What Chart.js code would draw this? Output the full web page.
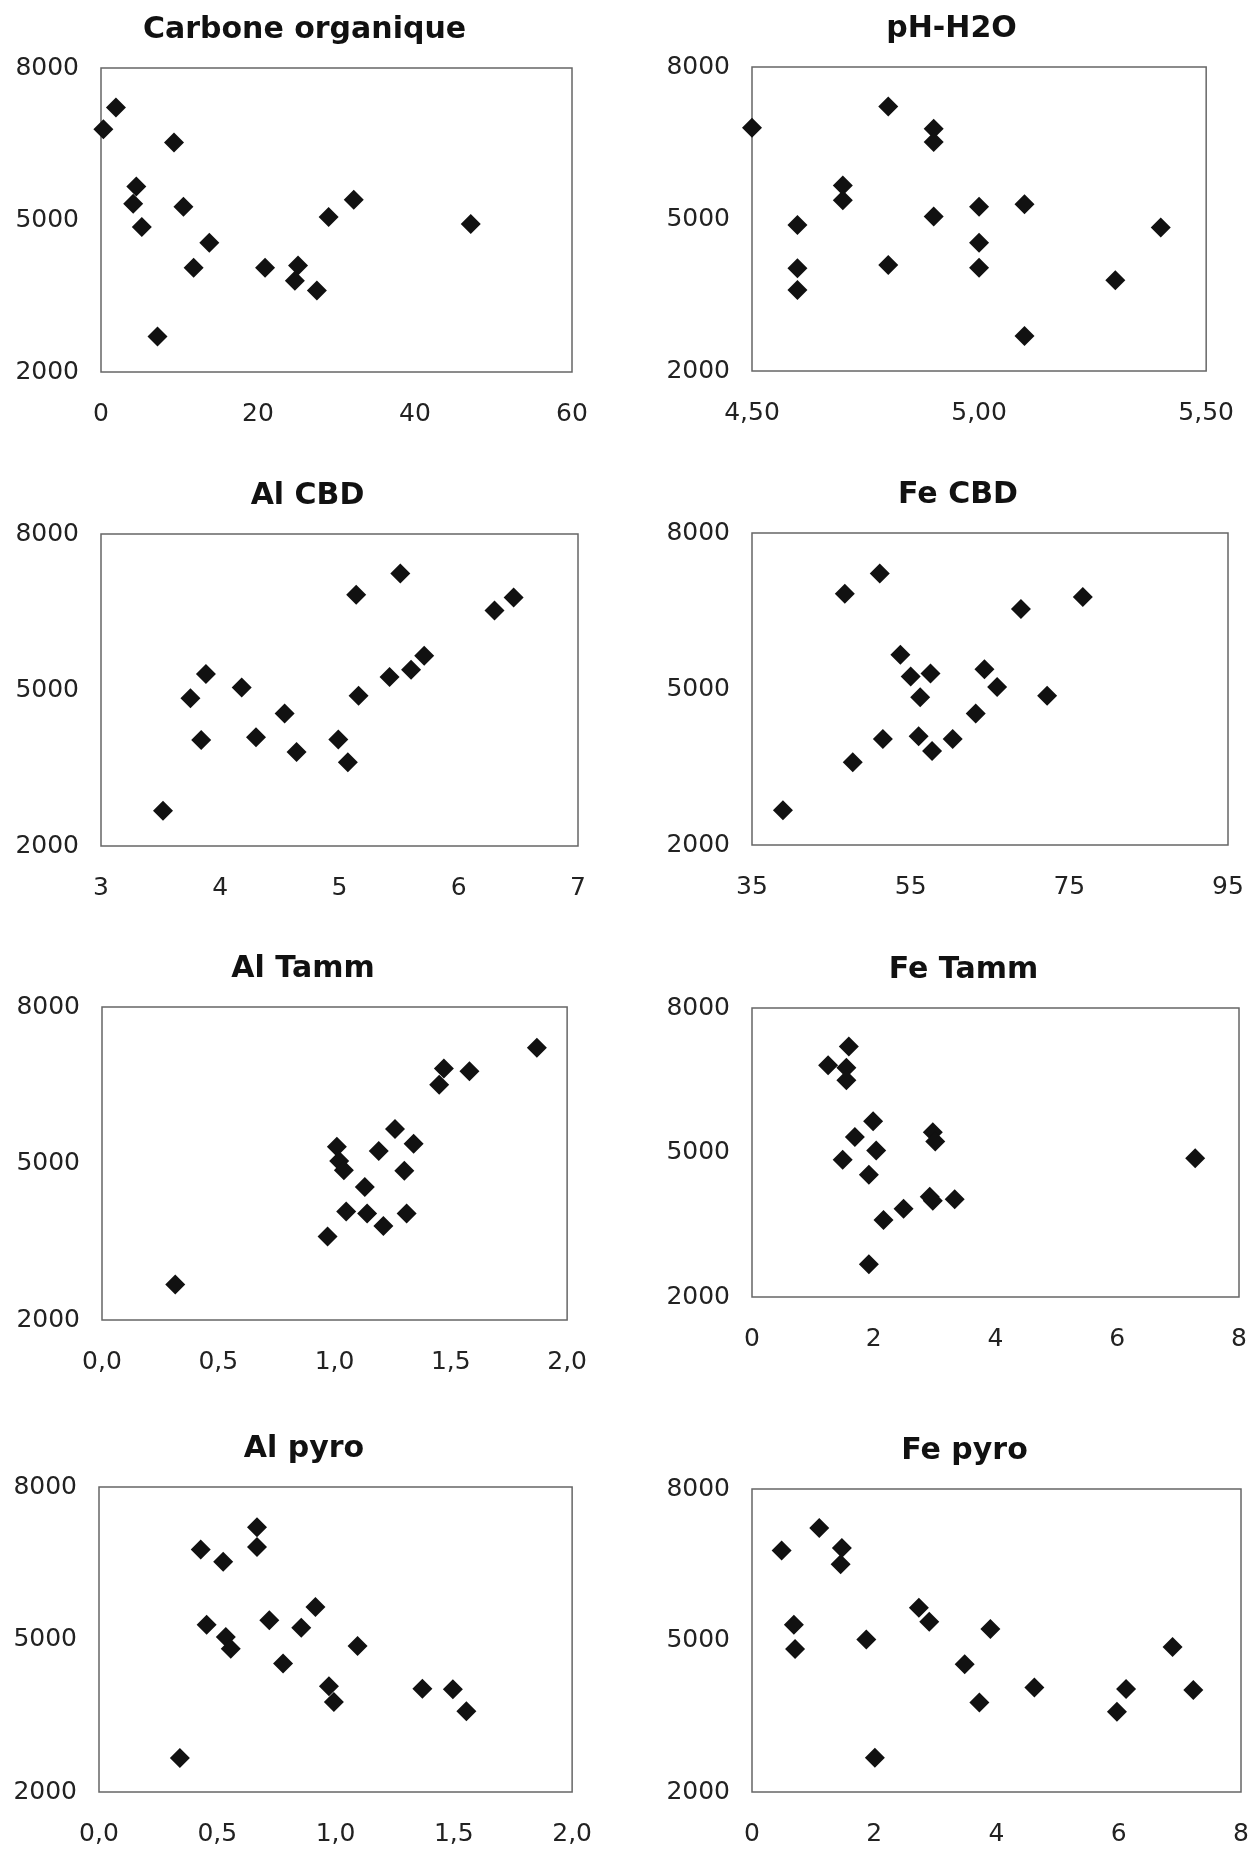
<!DOCTYPE html>
<html lang="fr">
<head>
<meta charset="UTF-8">
<title>Nuages de points</title>
<script src="https://cdn.jsdelivr.net/npm/chart.js"></script>
<style>
  body { margin: 0; background: #fff; }
  #page { position: relative; width: 1259px; height: 1856px; }
  .box { position: absolute; }
</style>
</head>
<body>
<div id="page"></div>
<script>
// axe vertical commun
const yTicks = [2000, 5000, 8000];
const yTickLabels = ['2000', '5000', '8000'];

// Carbone organique
const carbonX = [0.3, 1.9, 9.3, 4.5, 4.1, 5.2, 10.5, 13.8, 11.8, 7.2, 20.9, 25.1, 24.7, 27.5, 29.0, 32.2, 47.1];
const carbonY = [6790, 7220, 6530, 5660, 5320, 4860, 5260, 4550, 4060, 2700, 4060, 4100, 3800, 3610, 5060, 5400, 4920];
const carbonTicks = [0, 20, 40, 60];
const carbonLabels = ['0', '20', '40', '60'];

// pH-H2O
const phX = [4.50, 4.80, 4.90, 4.90, 4.70, 4.70, 4.60, 4.60, 4.60, 4.80, 4.90, 5.00, 5.00, 5.00, 5.10, 5.10, 5.30, 5.40];
const phY = [6800, 7220, 6780, 6520, 5660, 5370, 4880, 4030, 3600, 4090, 5050, 5240, 4530, 4040, 5290, 2690, 3790, 4830];
const phTicks = [4.5, 5.0, 5.5];
const phLabels = ['4,50', '5,00', '5,50'];

// Al CBD
const alCbdX = [3.52, 3.75, 3.88, 3.84, 4.18, 4.30, 4.54, 4.64, 4.99, 5.07, 5.14, 5.16, 5.51, 5.42, 5.60, 5.71, 6.30, 6.46];
const alCbdY = [2680, 4840, 5310, 4040, 5050, 4090, 4550, 3810, 4050, 3610, 6830, 4890, 7240, 5250, 5390, 5660, 6530, 6780];
const alCbdTicks = [3, 4, 5, 6, 7];
const alCbdLabels = ['3', '4', '5', '6', '7'];

// Fe CBD
const feCbdX = [38.9, 46.7, 51.1, 47.7, 51.5, 53.7, 55.0, 56.2, 57.5, 56.0, 57.7, 60.3, 63.2, 64.3, 65.9, 68.9, 72.2, 76.7];
const feCbdY = [2670, 6830, 7220, 3590, 4040, 5660, 5240, 4840, 5300, 4090, 3810, 4040, 4530, 5380, 5040, 6540, 4870, 6770];
const feCbdTicks = [35, 55, 75, 95];
const feCbdLabels = ['35', '55', '75', '95'];

// Al Tamm
const alTammX = [0.315, 0.97, 1.01, 1.02, 1.04, 1.05, 1.13, 1.14, 1.19, 1.21, 1.26, 1.30, 1.31, 1.34, 1.45, 1.47, 1.58, 1.87];
const alTammY = [2680, 3600, 5320, 5050, 4870, 4080, 4550, 4040, 5240, 3800, 5660, 4860, 4040, 5380, 6510, 6820, 6770, 7220];
const alTammTicks = [0, 0.5, 1, 1.5, 2];
const alTammLabels = ['0,0', '0,5', '1,0', '1,5', '2,0'];

// Fe Tamm
const feTammX = [1.25, 1.59, 1.55, 1.55, 1.99, 1.69, 1.49, 2.04, 1.92, 2.97, 3.01, 2.92, 2.97, 3.33, 2.49, 2.16, 1.92, 7.28];
const feTammY = [6810, 7200, 6760, 6500, 5650, 5320, 4850, 5040, 4540, 5420, 5230, 4080, 4000, 4030, 3830, 3600, 2680, 4880];
const feTammTicks = [0, 2, 4, 6, 8];
const feTammLabels = ['0', '2', '4', '6', '8'];

// Al pyro
const alPyroX = [0.342, 0.43, 0.525, 0.668, 0.668, 0.455, 0.536, 0.557, 0.72, 0.778, 0.855, 0.915, 1.093, 0.972, 0.993, 1.367, 1.496, 1.553];
const alPyroY = [2670, 6770, 6530, 7210, 6820, 5290, 5050, 4820, 5380, 4530, 5230, 5640, 4870, 4080, 3770, 4030, 4020, 3590];
const alPyroTicks = [0, 0.5, 1, 1.5, 2];
const alPyroLabels = ['0,0', '0,5', '1,0', '1,5', '2,0'];

// Fe pyro
const fePyroX = [0.485, 1.10, 1.47, 1.45, 0.685, 0.705, 1.87, 2.73, 2.90, 3.90, 3.48, 3.72, 4.62, 2.01, 5.97, 6.12, 6.88, 7.22];
const fePyroY = [6780, 7230, 6830, 6510, 5310, 4830, 5020, 5650, 5370, 5230, 4530, 3770, 4070, 2680, 3590, 4040, 4870, 4020];
const fePyroTicks = [0, 2, 4, 6, 8];
const fePyroLabels = ['0', '2', '4', '6', '8'];

// cadre de chaque graphique : gauche, haut, droite, bas (px)
const panels = [
  { title: 'Carbone organique', xs: carbonX, ys: carbonY, ticks: carbonTicks, labels: carbonLabels, frame: [101, 68, 572, 372] },
  { title: 'pH-H2O', xs: phX, ys: phY, ticks: phTicks, labels: phLabels, frame: [752, 67, 1215, 371] },
  { title: 'Al CBD', xs: alCbdX, ys: alCbdY, ticks: alCbdTicks, labels: alCbdLabels, frame: [101, 534, 578, 846] },
  { title: 'Fe CBD', xs: feCbdX, ys: feCbdY, ticks: feCbdTicks, labels: feCbdLabels, frame: [752, 533, 1228, 845] },
  { title: 'Al Tamm', xs: alTammX, ys: alTammY, ticks: alTammTicks, labels: alTammLabels, frame: [102, 1007, 568, 1320] },
  { title: 'Fe Tamm', xs: feTammX, ys: feTammY, ticks: feTammTicks, labels: feTammLabels, frame: [752, 1008, 1239, 1297] },
  { title: 'Al pyro', xs: alPyroX, ys: alPyroY, ticks: alPyroTicks, labels: alPyroLabels, frame: [99, 1487, 573, 1792] },
  { title: 'Fe pyro', xs: fePyroX, ys: fePyroY, ticks: fePyroTicks, labels: fePyroLabels, frame: [752, 1489, 1241, 1792] }
];

// un axe vide à droite (y2) décale le titre comme sur l'original
const Y_AXIS_W = 110, Y2_AXIS_W = 46, X_AXIS_H = 60, TITLE_H = 80;
const tickFont = { family: 'DejaVu Sans', size: 25 };

// cadre gris autour de la zone de tracé
const framePlugin = {
  id: 'frame',
  beforeDatasetsDraw(chart) {
    const a = chart.chartArea, ctx = chart.ctx;
    ctx.save();
    ctx.strokeStyle = '#666';
    ctx.lineWidth = 1.5;
    ctx.strokeRect(a.left, a.top, a.right - a.left, a.bottom - a.top);
    ctx.restore();
  }
};

const page = document.getElementById('page');

panels.forEach(p => {
  const [L, T, R, B] = p.frame;
  const box = document.createElement('div');
  box.className = 'box';
  box.style.left = (L - Y_AXIS_W) + 'px';
  box.style.top = (T - TITLE_H) + 'px';
  box.style.width = (R - L + Y_AXIS_W + Y2_AXIS_W) + 'px';
  box.style.height = (B - T + TITLE_H + X_AXIS_H) + 'px';
  const canvas = document.createElement('canvas');
  box.appendChild(canvas);
  page.appendChild(box);

  new Chart(canvas, {
    type: 'scatter',
    data: {
      datasets: [{
        data: p.xs.map((x, i) => ({ x: x, y: p.ys[i] })),
        pointStyle: 'rectRot',
        pointRadius: 10,
        pointHoverRadius: 10,
        backgroundColor: '#111',
        borderColor: '#111',
        borderWidth: 0,
        clip: false
      }]
    },
    options: {
      responsive: true,
      maintainAspectRatio: false,
      devicePixelRatio: 1,
      animation: false,
      layout: { padding: 0 },
      plugins: {
        legend: { display: false },
        tooltip: { enabled: false },
        title: {
          display: true,
          text: p.title,
          color: '#111',
          font: { family: 'DejaVu Sans', size: 30, weight: 'bold' },
          padding: { top: 24, bottom: 20 }
        }
      },
      scales: {
        x: {
          type: 'linear',
          min: p.ticks[0],
          max: p.ticks[p.ticks.length - 1],
          afterBuildTicks: s => { s.ticks = p.ticks.map(v => ({ value: v })); },
          afterFit: s => { s.height = X_AXIS_H; },
          grid: { display: false, drawTicks: false, tickLength: 0 },
          border: { display: false },
          ticks: {
            callback: (v, i) => p.labels[i],
            font: tickFont,
            color: '#222',
            padding: 27,
            maxRotation: 0,
            autoSkip: false
          }
        },
        y: {
          type: 'linear',
          min: yTicks[0],
          max: yTicks[yTicks.length - 1],
          afterBuildTicks: s => { s.ticks = yTicks.map(v => ({ value: v })); },
          afterFit: s => { s.width = Y_AXIS_W; },
          grid: { display: false, drawTicks: false, tickLength: 0 },
          border: { display: false },
          ticks: {
            callback: (v, i) => yTickLabels[i],
            font: tickFont,
            color: '#222',
            padding: 22,
            autoSkip: false
          }
        },
        y2: {
          type: 'linear',
          position: 'right',
          min: yTicks[0],
          max: yTicks[yTicks.length - 1],
          afterFit: s => { s.width = Y2_AXIS_W; },
          grid: { display: false, drawTicks: false, tickLength: 0 },
          border: { display: false },
          ticks: { display: false }
        }
      }
    },
    plugins: [framePlugin]
  });
});
</script>
</body>
</html>
